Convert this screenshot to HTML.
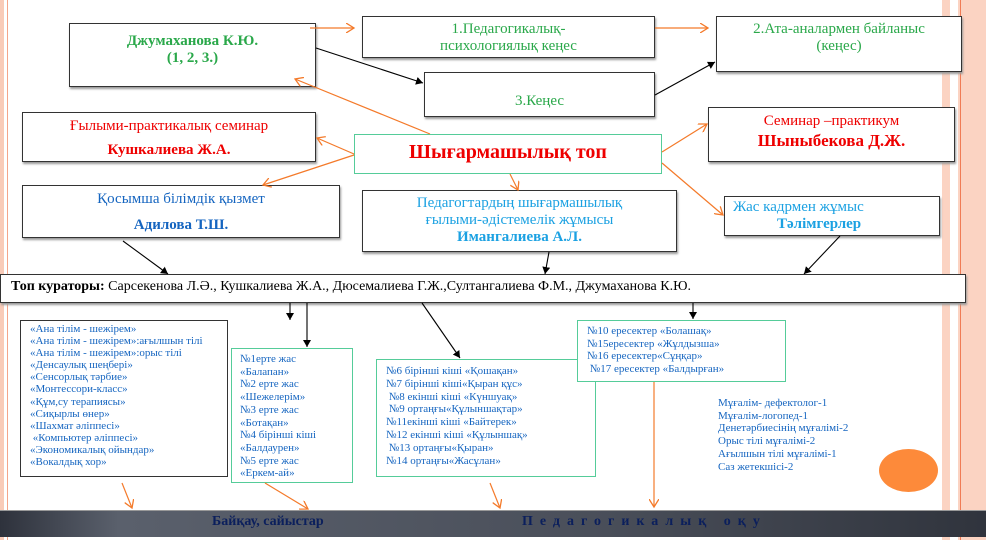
<!DOCTYPE html>
<html><head><meta charset="utf-8"><style>
*{margin:0;padding:0;box-sizing:border-box}
body{width:986px;height:540px;position:relative;background:#fff;overflow:hidden;font-family:"Liberation Serif","DejaVu Serif",serif}
.b{position:absolute;border:1.5px solid #333;background:#fff;text-align:center;box-shadow:1px 2px 2px #999}
.g{border-color:#5c9;box-shadow:none}
.t{position:absolute;white-space:nowrap}
.l{position:absolute;font-size:11px;line-height:12.1px;color:#1565c0;white-space:nowrap}
</style></head><body>
<div style="position:absolute;left:0;top:0;width:4px;height:540px;background:#f9cbb8"></div>
<div style="position:absolute;left:7px;top:0;width:1px;height:540px;background:#f4a58a"></div>
<div style="position:absolute;left:942px;top:0;width:44px;height:540px;background:#fbd3c2"></div>
<div style="position:absolute;left:950px;top:0;width:8px;height:540px;background:#fff"></div>
<div style="position:absolute;left:960px;top:0;width:1px;height:540px;background:#f07b55"></div>

<div class="b" style="left:69px;top:23px;width:247px;height:64px;color:#2aa84a;font-size:15px;font-weight:bold;line-height:17px;padding-top:9px">Джумаханова К.Ю.<br>(1, 2, 3.)</div>
<div class="b" style="left:362px;top:16px;width:293px;height:42px;color:#2aa84a;font-size:15px;line-height:17px;padding-top:4px">1.Педагогикалық-<br>психологиялық кеңес</div>
<div class="b" style="left:716px;top:16px;width:246px;height:56px;color:#2aa84a;font-size:15px;line-height:17px;padding-top:4px">2.Ата-аналармен байланыс<br>(кеңес)</div>
<div class="b" style="left:424px;top:72px;width:231px;height:45px;color:#2aa84a;font-size:15px;padding-top:20px">3.Кеңес</div>
<div class="b" style="left:22px;top:112px;width:294px;height:50px;color:#e00;font-size:15px;line-height:24px;padding-top:1px">Ғылыми-практикалық семинар<br><b>Кушкалиева Ж.А.</b></div>
<div class="b g" style="left:354px;top:134px;width:308px;height:40px;color:#e00;font-size:20px;font-weight:bold;padding-top:6px">Шығармашылық топ</div>
<div class="b" style="left:708px;top:107px;width:247px;height:55px;color:#e00;font-size:15px;line-height:20px;padding-top:3px">Семинар –практикум<br><b style="font-size:17px">Шыныбекова Д.Ж.</b></div>
<div class="b" style="left:22px;top:185px;width:318px;height:53px;color:#1565c0;font-size:15px;line-height:26px;padding-top:0">Қосымша білімдік қызмет<br><b>Адилова Т.Ш.</b></div>
<div class="b" style="left:362px;top:190px;width:315px;height:62px;color:#1ba1e2;font-size:15px;line-height:17px;padding-top:4px">Педагогтардың шығармашылық<br>ғылыми-әдістемелік жұмысы<br><b>Имангалиева А.Л.</b></div>
<div class="b" style="left:724px;top:196px;width:216px;height:40px;color:#1ba1e2;font-size:15px;line-height:17px;padding-top:2px;text-align:left;padding-left:8px">Жас кадрмен жұмыс<br><b style="padding-left:44px;display:inline-block">Тәлімгерлер</b></div>
<div class="b" style="left:0px;top:274px;width:966px;height:29px;font-size:14px;text-align:left;padding:4px 0 0 10px;color:#000"><b>Топ кураторы:</b> Сарсекенова Л.Ә., Кушкалиева Ж.А., Дюсемалиева Г.Ж.,Султангалиева Ф.М., Джумаханова К.Ю.</div>

<div class="b" style="left:20px;top:320px;width:208px;height:157px;box-shadow:none"></div>
<div class="l" style="left:30px;top:323px">«Ана тілім - шежірем»<br>«Ана тілім - шежірем»:ағылшын тілі<br>«Ана тілім - шежірем»:орыс тілі<br>«Денсаулық шеңбері»<br>«Сенсорлық тәрбие»<br>«Монтессори-класс»<br>«Құм,су терапиясы»<br>«Сиқырлы өнер»<br>«Шахмат әліппесі»<br>&nbsp;«Компьютер әліппесі»<br>«Экономикалық ойындар»<br>«Вокалдық хор»</div>
<div class="b g" style="left:231px;top:348px;width:122px;height:135px"></div>
<div class="l" style="left:240px;top:353px;line-height:12.7px">№1ерте жас<br>«Балапан»<br>№2 ерте жас<br>«Шежелерім»<br>№3 ерте жас<br>«Ботақан»<br>№4 бірінші кіші<br>«Балдаурен»<br>№5 ерте жас<br>«Еркем-ай»</div>
<div class="b g" style="left:376px;top:359px;width:220px;height:118px"></div>
<div class="l" style="left:386px;top:365px;line-height:12.8px">№6 бірінші кіші «Қошақан»<br>№7 бірінші кіші«Қыран құс»<br>&nbsp;№8 екінші кіші «Күншуақ»<br>&nbsp;№9 ортаңғы«Құлыншақтар»<br>№11екінші кіші «Байтерек»<br>№12 екінші кіші «Құлыншақ»<br>&nbsp;№13 ортаңғы«Қыран»<br>№14 ортаңғы«Жасұлан»</div>
<div class="b g" style="left:577px;top:320px;width:209px;height:62px"></div>
<div class="l" style="left:587px;top:325px;line-height:12.7px">№10 ересектер «Болашақ»<br>№15ересектер «Жұлдызша»<br>№16 ересектер«Сұңқар»<br>&nbsp;№17 ересектер «Балдырған»</div>
<div class="l" style="left:718px;top:397px;line-height:12.7px">Мұғалім- дефектолог-1<br>Мұғалім-логопед-1<br>Денетәрбиесінің мұғалімі-2<br>Орыс тілі мұғалімі-2<br>Ағылшын тілі мұғалімі-1<br>Саз жетекшісі-2</div>
<div style="position:absolute;left:879px;top:449px;width:59px;height:43px;border-radius:50%;background:#fd8a3a"></div>

<div style="position:absolute;left:0;top:510px;width:986px;height:27px;background:linear-gradient(90deg,#2e323c,#5a606c 12%,#4a4f5a 60%,#30343d);border-top:1px solid #999"></div>
<div class="t" style="left:212px;top:514px;font-size:14px;font-weight:bold;color:#0b1f5c">Байқау, сайыстар</div>
<div class="t" style="left:522px;top:514px;font-size:14px;font-weight:bold;color:#0b1f5c;letter-spacing:7px">Педагогикалық оқу</div>

<svg width="986" height="540" style="position:absolute;left:0;top:0">
<defs>
<marker id="o" markerWidth="10" markerHeight="10" refX="8" refY="5" orient="auto" markerUnits="userSpaceOnUse"><path d="M0,0 L8,5 L0,10" fill="none" stroke="#f47a2a" stroke-width="1.3"/></marker>
<marker id="k" markerWidth="8" markerHeight="8" refX="7" refY="4" orient="auto" markerUnits="userSpaceOnUse"><path d="M0,0 L7,4 L0,8z" fill="#000"/></marker>
</defs>
<g stroke="#f47a2a" stroke-width="1.2" fill="none" marker-end="url(#o)">
<line x1="310" y1="28" x2="354" y2="28"/><line x1="655" y1="28" x2="708" y2="28"/>
<line x1="430" y1="134" x2="295" y2="79"/><line x1="354" y1="154" x2="317" y2="138"/>
<line x1="354" y1="155" x2="263" y2="185"/><line x1="662" y1="152" x2="707" y2="124"/>
<line x1="662" y1="163" x2="723" y2="215"/><line x1="510" y1="174" x2="518" y2="190"/>
<line x1="122" y1="483" x2="132" y2="508"/><line x1="265" y1="483" x2="308" y2="509"/>
<line x1="490" y1="483" x2="500" y2="508"/><line x1="654" y1="382" x2="654" y2="507"/>
</g>
<g stroke="#000" stroke-width="1.1" fill="none" marker-end="url(#k)">
<line x1="316" y1="48" x2="423" y2="83"/><line x1="655" y1="95" x2="715" y2="62"/>
<line x1="123" y1="241" x2="168" y2="274"/><line x1="549" y1="252" x2="545" y2="274"/>
<line x1="840" y1="236" x2="804" y2="274"/>
<line x1="290" y1="303" x2="290" y2="320"/><line x1="307" y1="303" x2="307" y2="347"/>
<line x1="422" y1="303" x2="460" y2="358"/><line x1="693" y1="303" x2="693" y2="319"/>
</g>
</svg>
</body></html>
